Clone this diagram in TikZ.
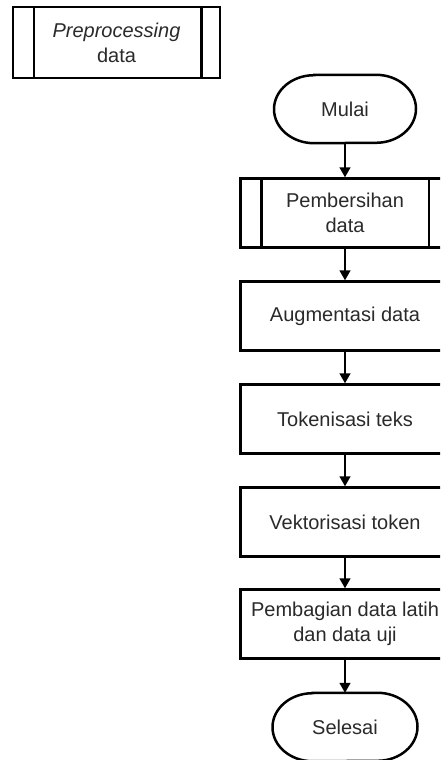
\documentclass[tikz,border=0pt]{standalone}
\usepackage{fontspec}
\setmainfont{Liberation Sans}
\usetikzlibrary{arrows.meta}
\definecolor{txt}{HTML}{2A2A2A}
\begin{document}
\begin{tikzpicture}[x=1pt,y=-1pt,
  lbl/.style={font=\fontsize{20}{25}\selectfont, text=txt, align=center},
  procbox/.style={lbl, draw=black, line width=2.5pt, rectangle,
    minimum width=209pt, minimum height=69pt, inner sep=0pt},
  terminal/.style={lbl, rectangle, minimum width=142pt, minimum height=68pt, inner sep=0pt},
  outline/.style={draw=black, line width=2.5pt},
  flow/.style={draw=black, line width=1.5pt, -{Triangle[length=10pt,width=11pt]}}
]
\clip (0,0) rectangle (440,760);
\fill[white] (0,0) rectangle (440,760);

% legend: predefined-process symbol
\node[procbox, minimum width=207pt, minimum height=71pt] (legend) at (116.5,42.5)
  {\itshape Preprocessing\\data};
\draw[outline] ([xshift=22pt]legend.north west) -- ([xshift=22pt]legend.south west);
\draw[outline] ([xshift=-20pt]legend.north east) -- ([xshift=-20pt]legend.south east);

% main flow
\node[terminal] (start) at (345,109) {Mulai};
\node[procbox] (clean) at (345,213) {Pembersihan\\data};
\node[procbox] (aug) at (345,316) {Augmentasi data};
\node[procbox] (tok) at (345,419) {Tokenisasi teks};
\node[procbox] (vec) at (345,522) {Vektorisasi token};
\node[procbox] (split) at (345,624) {Pembagian data latih\\dan data uji};
\node[terminal, minimum width=145pt] (stop) at (345,727) {Selesai};

% terminal outlines: straight top and bottom with elliptical ends
\draw[outline] ([xshift=-31pt]start.north) -- ([xshift=31pt]start.north)
  arc[start angle=90, end angle=-90, x radius=40pt, y radius=34pt]
  -- ([xshift=-31pt]start.south)
  arc[start angle=270, end angle=90, x radius=40pt, y radius=34pt] -- cycle;
\draw[outline] ([xshift=-32.5pt]stop.north) -- ([xshift=32.5pt]stop.north)
  arc[start angle=90, end angle=-90, x radius=40pt, y radius=34pt]
  -- ([xshift=-32.5pt]stop.south)
  arc[start angle=270, end angle=90, x radius=40pt, y radius=34pt] -- cycle;

% sub-process bars of the cleaning step
\draw[outline] ([xshift=22pt]clean.north west) -- ([xshift=22pt]clean.south west);
\draw[outline] ([xshift=-22pt]clean.north east) -- ([xshift=-22pt]clean.south east);

\draw[flow] (start) -- (clean);
\draw[flow] (clean) -- (aug);
\draw[flow] (aug) -- (tok);
\draw[flow] (tok) -- (vec);
\draw[flow] (vec) -- (split);
\draw[flow] (split) -- (stop);
\end{tikzpicture}
\end{document}
